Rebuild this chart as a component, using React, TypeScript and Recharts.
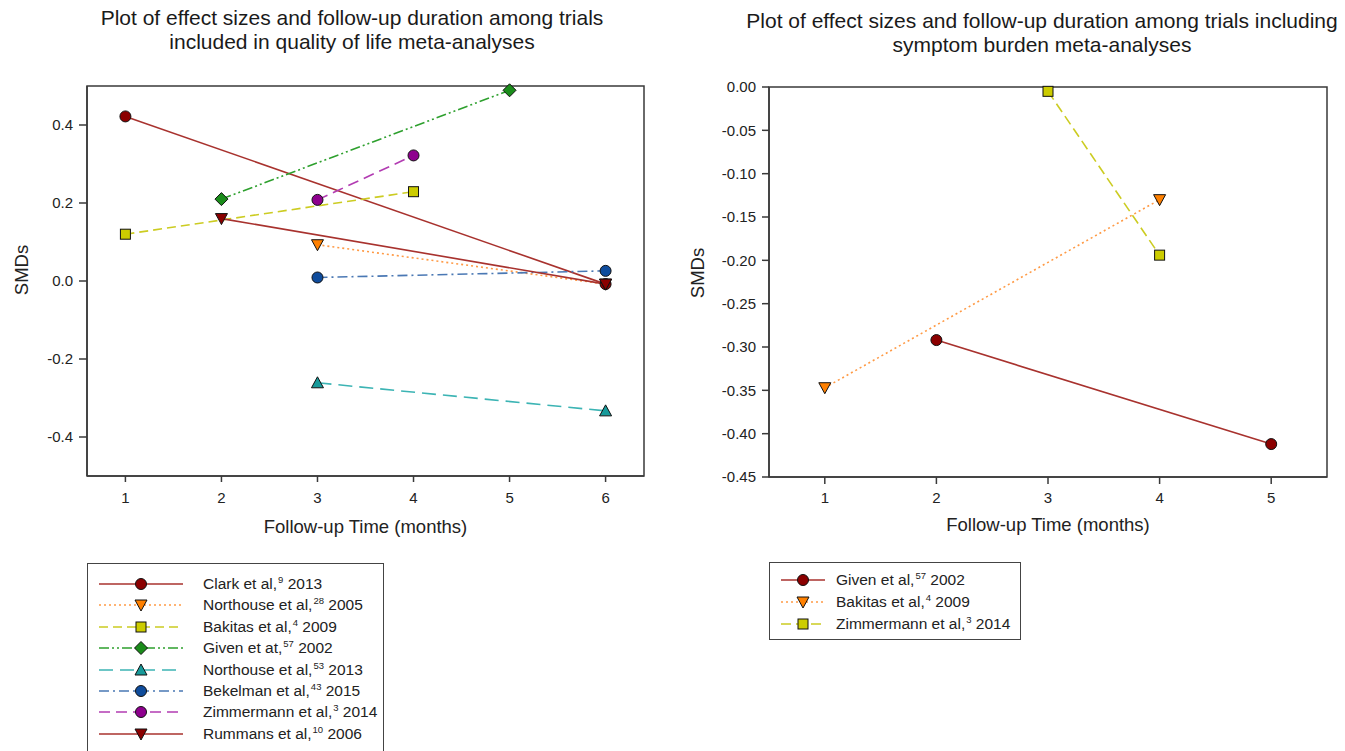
import React from "react"
import { LineChart, Line, XAxis, YAxis, ReferenceArea } from "recharts"

// ---- quality of life panel ----
const qolMonthTicks = [1, 2, 3, 4, 5, 6]
const qolSmdTicks = [-0.4, -0.2, 0, 0.2, 0.4]

const clark2013 = [{ month: 1, smd: 0.422 }, { month: 6, smd: -0.008 }]
const northouse2005 = [{ month: 3, smd: 0.093 }, { month: 6, smd: -0.008 }]
const bakitas2009 = [{ month: 1, smd: 0.12 }, { month: 4, smd: 0.229 }]
const given2002 = [{ month: 2, smd: 0.21 }, { month: 5, smd: 0.489 }]
const northouse2013 = [{ month: 3, smd: -0.261 }, { month: 6, smd: -0.333 }]
const bekelman2015 = [{ month: 3, smd: 0.009 }, { month: 6, smd: 0.026 }]
const zimmermann2014 = [{ month: 3, smd: 0.208 }, { month: 4, smd: 0.322 }]
const rummans2006 = [{ month: 2, smd: 0.16 }, { month: 6, smd: -0.008 }]

// ---- symptom burden panel ----
const sbMonthTicks = [1, 2, 3, 4, 5]
const sbSmdTicks = [0, -0.05, -0.1, -0.15, -0.2, -0.25, -0.3, -0.35, -0.4, -0.45]

const sbGiven2002 = [{ month: 2, smd: -0.292 }, { month: 5, smd: -0.412 }]
const sbBakitas2009 = [{ month: 1, smd: -0.347 }, { month: 4, smd: -0.13 }]
const sbZimmermann2014 = [{ month: 3, smd: -0.005 }, { month: 4, smd: -0.194 }]

type Pt = { month: number; smd: number }
type MarkerKind = "circle" | "square" | "diamond" | "up" | "down"

interface Series {
  id: string
  label: string
  sup: string
  year: string
  data: Pt[]
  line: string
  fill: string
  dash?: string
  marker: MarkerKind
}

const qolSeries: Series[] = [
  { id: "clark", label: "Clark et al,", sup: "9", year: "2013", data: clark2013, line: "#a8322e", fill: "#8b0000", marker: "circle" },
  { id: "north05", label: "Northouse et al,", sup: "28", year: "2005", data: northouse2005, line: "#ff9a45", fill: "#ff8000", dash: "2 3", marker: "down" },
  { id: "bakitas", label: "Bakitas et al,", sup: "4", year: "2009", data: bakitas2009, line: "#cccc22", fill: "#cccc00", dash: "9 5", marker: "square" },
  { id: "given", label: "Given et at,", sup: "57", year: "2002", data: given2002, line: "#2ea02e", fill: "#1a8c1a", dash: "10 3 2 3 2 3", marker: "diamond" },
  { id: "north13", label: "Northouse et al,", sup: "53", year: "2013", data: northouse2013, line: "#3cb4b4", fill: "#179a9a", dash: "14 7", marker: "up" },
  { id: "bekelman", label: "Bekelman et al,", sup: "43", year: "2015", data: bekelman2015, line: "#4a78b4", fill: "#0f4c9c", dash: "10 4 2 4", marker: "circle" },
  { id: "zimm", label: "Zimmermann et al,", sup: "3", year: "2014", data: zimmermann2014, line: "#b23cb2", fill: "#8e008e", dash: "11 6", marker: "circle" },
  { id: "rummans", label: "Rummans et al,", sup: "10", year: "2006", data: rummans2006, line: "#a8322e", fill: "#8b0000", marker: "down" },
]

const sbSeries: Series[] = [
  { id: "sbgiven", label: "Given et al,", sup: "57", year: "2002", data: sbGiven2002, line: "#a8322e", fill: "#8b0000", marker: "circle" },
  { id: "sbbakitas", label: "Bakitas et al,", sup: "4", year: "2009", data: sbBakitas2009, line: "#ff9a45", fill: "#ff8000", dash: "2 3", marker: "down" },
  { id: "sbzimm", label: "Zimmermann et al,", sup: "3", year: "2014", data: sbZimmermann2014, line: "#cccc22", fill: "#cccc00", dash: "10 5", marker: "square" },
]

const FONT = '"Liberation Sans", Arial, sans-serif'
const AXIS = "#3a3a3a"

function Marker({ cx, cy, kind, fill }: { cx?: number; cy?: number; kind: MarkerKind; fill: string }) {
  if (cx == null || cy == null) return null
  const st = { fill, stroke: "#111", strokeWidth: 1 }
  if (kind === "circle") return <circle cx={cx} cy={cy} r={5.5} {...st} />
  if (kind === "square") return <rect x={cx - 5} y={cy - 5} width={10} height={10} {...st} />
  if (kind === "diamond")
    return <polygon points={`${cx},${cy - 6.5} ${cx + 6.5},${cy} ${cx},${cy + 6.5} ${cx - 6.5},${cy}`} {...st} />
  if (kind === "up")
    return <polygon points={`${cx},${cy - 6} ${cx + 6},${cy + 5} ${cx - 6},${cy + 5}`} {...st} />
  return <polygon points={`${cx - 6},${cy - 5} ${cx + 6},${cy - 5} ${cx},${cy + 6}`} {...st} />
}

function renderSeries(list: Series[]) {
  return list.map((s) => (
    <Line
      key={s.id}
      data={s.data}
      dataKey="smd"
      type="linear"
      stroke={s.line}
      strokeWidth={1.6}
      strokeDasharray={s.dash}
      isAnimationActive={false}
      activeDot={false}
      dot={(p: any) => <Marker key={`${s.id}-${p.index}`} cx={p.cx} cy={p.cy} kind={s.marker} fill={s.fill} />}
    />
  ))
}

const smdLabel = (dx: number, dy: number) => (props: any) => {
  const vb = props.viewBox || {}
  const x = vb.x + dx
  const y = vb.y + vb.height / 2 + dy
  return (
    <text x={x} y={y} transform={`rotate(-90 ${x} ${y})`} textAnchor="middle" dominantBaseline="central" fontSize={18.5} fill="#222">
      SMDs
    </text>
  )
}

const tickStyle = { fontSize: 15, fill: "#222" }

function LegendBox({
  items, left, top, width, height, x1, x2, mx, tx, row0, gap,
}: {
  items: Series[]; left: number; top: number; width: number; height: number
  x1: number; x2: number; mx: number; tx: number; row0: number; gap: number
}) {
  return (
    <div style={{ position: "absolute", left, top, width, height, border: "1.5px solid #444", boxSizing: "border-box" }}>
      {items.map((s, i) => {
        const cy = row0 + i * gap
        return (
          <React.Fragment key={s.id}>
            <svg style={{ position: "absolute", left: 0, top: cy - 10 }} width={tx} height={20}>
              <line x1={x1} x2={x2} y1={10} y2={10} stroke={s.line} strokeWidth={1.6} strokeDasharray={s.dash} />
              <Marker cx={mx} cy={10} kind={s.marker} fill={s.fill} />
            </svg>
            <div style={{ position: "absolute", left: tx, top: cy - 10, height: 20, lineHeight: "20px", fontSize: 15.5, color: "#222", whiteSpace: "nowrap" }}>
              {s.label}
              <span style={{ fontSize: 9.5, position: "relative", top: -6, marginLeft: 1 }}>{s.sup}</span> {s.year}
            </div>
          </React.Fragment>
        )
      })}
    </div>
  )
}

const titleStyle: React.CSSProperties = {
  position: "absolute",
  fontSize: 21,
  lineHeight: "24px",
  color: "#1a1a1a",
  textAlign: "center",
  whiteSpace: "nowrap",
  transform: "translateX(-50%)",
}

export default function App() {
  return (
    <div style={{ position: "fixed", left: 0, top: 0, width: 1345, height: 751, overflow: "hidden", background: "#fff", fontFamily: FONT }}>
      <div style={{ ...titleStyle, left: 352, top: 6 }}>
        Plot of effect sizes and follow-up duration among trials
        <br />
        included in quality of life meta-analyses
      </div>
      <div style={{ ...titleStyle, left: 1042, top: 9 }}>
        Plot of effect sizes and follow-up duration among trials including
        <br />
        symptom burden meta-analyses
      </div>

      <div style={{ position: "absolute", left: 0, top: 0 }}>
        <LineChart width={660} height={560} margin={{ top: 86, right: 16, left: 27, bottom: 22 }}>
          <XAxis
            dataKey="month"
            type="number"
            domain={[0.6, 6.4]}
            ticks={qolMonthTicks}
            tickSize={6}
            tickMargin={10}
            height={62}
            tick={tickStyle}
            stroke={AXIS}
            strokeWidth={1.5}
            label={{ value: "Follow-up Time (months)", position: "insideBottom", offset: 5, fontSize: 18.5, fill: "#222" }}
          />
          <YAxis
            type="number"
            domain={[-0.5, 0.5]}
            ticks={qolSmdTicks}
            tickFormatter={(v: number) => v.toFixed(1)}
            tickSize={8}
            tickMargin={6}
            width={60}
            tick={tickStyle}
            stroke={AXIS}
            strokeWidth={1.5}
            label={{ content: smdLabel(-6, -11) }}
          />
          <ReferenceArea x1={0.6} x2={6.4} y1={-0.5} y2={0.5} fill="none" stroke={AXIS} strokeWidth={1.5} />
          {renderSeries(qolSeries)}
        </LineChart>
      </div>

      <div style={{ position: "absolute", left: 680, top: 0 }}>
        <LineChart width={665} height={560} margin={{ top: 87, right: 18, left: 29, bottom: 24 }}>
          <XAxis
            dataKey="month"
            type="number"
            domain={[0.5, 5.5]}
            ticks={sbMonthTicks}
            tickSize={7}
            tickMargin={8}
            height={59}
            tick={tickStyle}
            stroke={AXIS}
            strokeWidth={1.5}
            label={{ value: "Follow-up Time (months)", position: "insideBottom", offset: 5, fontSize: 18.5, fill: "#222" }}
          />
          <YAxis
            type="number"
            domain={[-0.45, 0]}
            ticks={sbSmdTicks}
            tickFormatter={(v: number) => v.toFixed(2)}
            tickSize={7}
            tickMargin={6}
            width={60}
            tick={tickStyle}
            stroke={AXIS}
            strokeWidth={1.5}
            label={{ content: smdLabel(-12, -9) }}
          />
          <ReferenceArea x1={0.5} x2={5.5} y1={-0.45} y2={0} fill="none" stroke={AXIS} strokeWidth={1.5} />
          {renderSeries(sbSeries)}
        </LineChart>
      </div>

      <LegendBox items={qolSeries} left={87} top={563} width={297} height={200} x1={11} x2={95} mx={53} tx={115} row0={20} gap={21.4} />
      <LegendBox items={sbSeries} left={769} top={562} width={252} height={78} x1={11} x2={55} mx={33} tx={66} row0={17} gap={22} />
    </div>
  )
}
